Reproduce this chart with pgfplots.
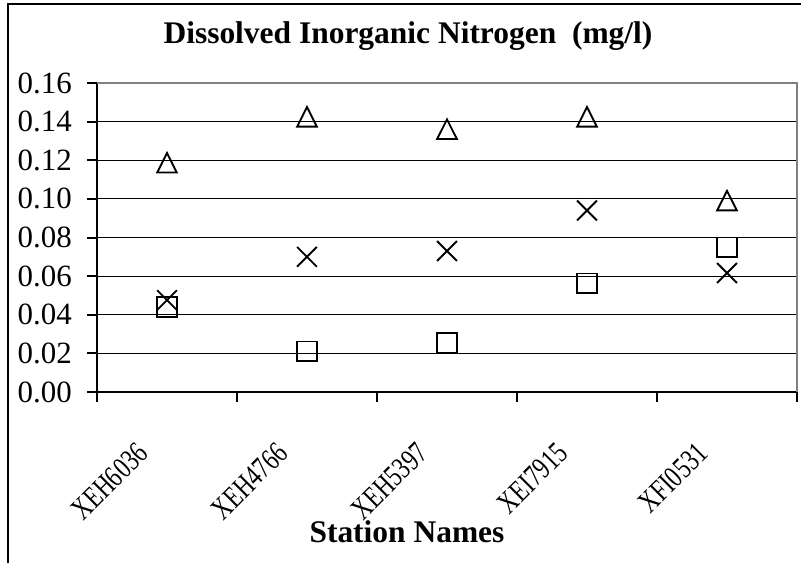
\documentclass[border=0pt]{standalone}
\usepackage{pgfplots}
\pgfplotsset{compat=1.18}
\usepackage{graphicx}
\usepackage{fontspec}
\setmainfont{Liberation Serif}
\newcommand{\rl}[1]{\scalebox{0.75}[1]{#1}}
\begin{document}
\begin{tikzpicture}
\useasboundingbox (-72.75pt,-127.5pt) rectangle (528pt,294pt);
\draw[line width=1.5pt] (-66.75pt,-140pt) -- (-66.75pt,291pt) -- (540pt,291pt);
\begin{axis}[
  at={(0pt,0pt)}, anchor=south west,
  scale only axis, width=525pt, height=231.75pt,
  xmin=0.5, xmax=5.5, ymin=0, ymax=0.16,
  axis x line*=bottom, axis y line*=left,
  axis line style={black, line width=1.5pt},
  xtick={0.5,1.5,2.5,3.5,4.5,5.5},
  x tick label as interval,
  xticklabels={\rl{XEH6036},\rl{XEH4766},\rl{XEH5397},\rl{XEI7915},\rl{XFI0531}},
  ytick={0,0.02,0.04,0.06,0.08,0.1,0.12,0.14,0.16},
  /pgf/number format/assume math mode=true,
  yticklabel style={/pgf/number format/fixed, /pgf/number format/fixed zerofill, /pgf/number format/precision=2},
  ymajorgrids, grid style={black, line width=0.8pt},
  tick align=outside, major tick length=7.5pt,
  tick style={black, line width=1.5pt},
  yticklabel style={font=\fontsize{23.2}{28}\selectfont, anchor=east, inner sep=0pt, xshift=-11.25pt},
  xticklabel style={font=\fontsize{23}{27}\selectfont, xshift=-24pt, yshift=-29pt, rotate=45, anchor=north east, inner sep=0pt},
  clip=false,
]
\addplot[only marks, mark=triangle, mark size=8.5pt, mark options={line width=1.4pt, yscale=1.15, yshift=-2pt, fill=none}] coordinates {(1,0.1186)(2,0.1424)(3,0.136)(4,0.1424)(5,0.099)};
\addplot[only marks, mark=x, mark size=10.5pt, mark options={line width=1.4pt}] coordinates {(1,0.0476)(2,0.070)(3,0.073)(4,0.094)(5,0.0616)};
\addplot[only marks, mark=square, mark size=7.2pt, mark options={line width=1.4pt, fill=none}] coordinates {(1,0.044)(2,0.0212)(3,0.0254)(4,0.0564)(5,0.075)};
\draw[gray, line width=1.4pt] (rel axis cs:0,1) -- (rel axis cs:1,1) -- (rel axis cs:1,0);
\end{axis}
\node[anchor=base, font=\bfseries\fontsize{23.6}{28}\selectfont] at (233.25pt,261.75pt) {Dissolved Inorganic Nitrogen\ \ (mg/l)};
\node[anchor=base, font=\bfseries\fontsize{23.6}{28}\selectfont] at (232.5pt,-112.5pt) {Station Names};
\end{tikzpicture}
\end{document}
